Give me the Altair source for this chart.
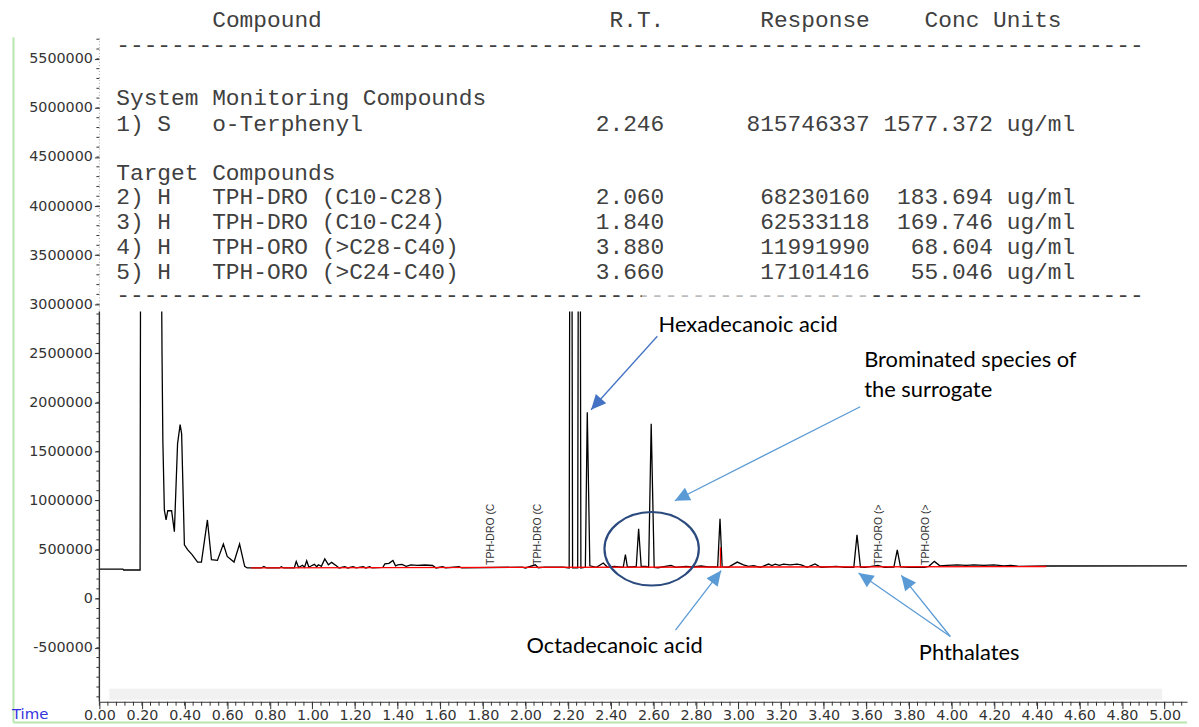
import math
import altair as alt
import pandas as pd

# ---------------- chromatogram trace (retention time in min, detector response) -------------
trace_time = [
    0.000, 0.110, 0.114, 0.191, 0.195, 0.284, 0.294, 0.298, 0.305, 0.313, 0.321, 0.339, 0.352,
    0.367, 0.379, 0.386, 0.399, 0.414, 0.435, 0.461, 0.479, 0.507, 0.526, 0.554, 0.582, 0.600,
    0.632, 0.658, 0.682, 0.694, 0.760, 0.772, 0.785, 0.845, 0.854, 0.865, 0.915, 0.924, 0.935,
    0.953, 0.963, 0.973, 0.983, 0.991, 1.009, 1.020, 1.028, 1.042, 1.058, 1.075, 1.090, 1.112,
    1.125, 1.152, 1.165, 1.191, 1.205, 1.238, 1.250, 1.269, 1.280, 1.330, 1.340, 1.359, 1.378,
    1.390, 1.401, 1.420, 1.440, 1.462, 1.494, 1.527, 1.564, 1.580, 1.611, 1.625, 1.689, 1.700,
    1.984, 2.000, 2.046, 2.060, 2.091, 2.133, 2.175, 2.205, 2.210, 2.216, 2.221, 2.245, 2.250,
    2.255, 2.260, 2.281, 2.290, 2.302, 2.333, 2.365, 2.385, 2.417, 2.450, 2.459, 2.469, 2.478,
    2.501, 2.520, 2.531, 2.543, 2.566, 2.578, 2.590, 2.604, 2.622, 2.683, 2.706, 2.753, 2.786,
    2.824, 2.857, 2.902, 2.913, 2.923, 2.951, 2.994, 3.023, 3.047, 3.071, 3.103, 3.141, 3.156,
    3.172, 3.191, 3.211, 3.242, 3.275, 3.294, 3.322, 3.359, 3.386, 3.460, 3.499, 3.541, 3.556,
    3.572, 3.594, 3.654, 3.685, 3.729, 3.745, 3.760, 3.802, 3.872, 3.893, 3.919, 3.945, 3.979,
    4.026, 4.068, 4.105, 4.152, 4.198, 4.245, 4.277, 4.315, 4.444, 5.105,
]
trace_response = [
    302000, 302000, 292000, 292000, 6000000, 6000000, 2500000, 1600000, 903000, 802000, 896000,
    896000, 683000, 1580000, 1773000, 1682000, 549000, 499000, 449000, 373000, 373000, 802000,
    397000, 390000, 556000, 430000, 373000, 556000, 329000, 313000, 313000, 329000, 313000,
    313000, 325000, 313000, 315000, 380000, 318000, 340000, 320000, 387000, 322000, 330000,
    350000, 325000, 346000, 330000, 405000, 345000, 370000, 335000, 313000, 325000, 313000,
    325000, 313000, 325000, 313000, 325000, 313000, 318000, 355000, 360000, 390000, 335000,
    345000, 350000, 330000, 345000, 340000, 343000, 338000, 313000, 325000, 313000, 325000,
    313000, 322000, 313000, 345000, 315000, 322000, 322000, 322000, 313000, 6000000, 6000000,
    313000, 313000, 6000000, 6000000, 313000, 320000, 1900000, 335000, 320000, 363000, 320000,
    330000, 322000, 322000, 450000, 325000, 325000, 330000, 713000, 330000, 330000, 320000,
    1783000, 318000, 315000, 339000, 318000, 330000, 325000, 333000, 325000, 325000, 815000,
    325000, 320000, 373000, 345000, 330000, 336000, 320000, 353000, 338000, 352000, 340000,
    352000, 345000, 352000, 345000, 320000, 353000, 320000, 330000, 318000, 320000, 650000,
    322000, 320000, 340000, 320000, 322000, 498000, 325000, 318000, 320000, 330000, 380000,
    335000, 340000, 345000, 340000, 345000, 340000, 345000, 335000, 340000, 330000, 333000,
    335000,
]

# integration baseline (red) and integration marker
baseline_time = [0.712, 4.444]
baseline_response = [313000, 328000]
marker_time = [2.915]
marker_low = [313000]
marker_high = [523000]

# ---------------- quantitation report ----------------
report_ids = ["1) S", "2) H", "3) H", "4) H", "5) H"]
report_compounds = ["o-Terphenyl", "TPH-DRO (C10-C28)", "TPH-DRO (C10-C24)",
                    "TPH-ORO (>C28-C40)", "TPH-ORO (>C24-C40)"]
report_rt = [2.246, 2.060, 1.840, 3.880, 3.660]
report_response = [815746337, 68230160, 62533118, 11991990, 17101416]
report_conc = [1577.372, 183.694, 169.746, 68.604, 55.046]

# axis tick values
x_tick_values = [round(i * 0.2, 2) for i in range(26)]
y_tick_values = [i * 500000 for i in range(-1, 12)]
x_minor = [round(i * 0.04, 2) for i in range(128)]
y_minor = [i * 100000 for i in range(-10, 58)]

# ---------------- layout ----------------
W, H = 1095, 668
xscale = alt.Scale(domain=[0, 5.105], nice=False, zero=False)
yscale = alt.Scale(domain=[-1050000, 5710000], nice=False, zero=False)

xaxis = alt.Axis(values=x_tick_values, format=".2f", title=None, grid=False,
                 domain=True, domainColor="#333333", domainWidth=1.2,
                 tickColor="#333333", tickSize=7, tickWidth=1,
                 labelFont="DejaVu Sans", labelFontSize=14.4, labelColor="#333333",
                 labelPadding=0, labelFlush=False, labelOverlap=False, labelAngle=0)
yaxis = alt.Axis(values=y_tick_values, labelExpr="datum.value + ''", title=None, grid=False,
                 domain=False, tickColor="#333333", tickSize=5, tickWidth=1,
                 labelFont="DejaVu Sans", labelFontSize=14.4, labelColor="#333333",
                 labelPadding=2, labelOverlap=False, labelFlush=False)

X = lambda f="time": alt.X(f"{f}:Q", scale=xscale, axis=xaxis)
Y = lambda f="response": alt.Y(f"{f}:Q", scale=yscale, axis=yaxis)


def single():
    return alt.Chart(alt.Data(values=[{"k": 1}]))


layers = []

# faint grey scan band near bottom
layers.append(single().mark_rect(color="#efefef", opacity=0.9).encode(
    x=alt.value(10), x2=alt.value(1070), y=alt.value(655), y2=alt.value(666)))

trace_df = pd.DataFrame({"time": trace_time, "response": trace_response})
layers.append(alt.Chart(trace_df).mark_line(color="#000000", strokeWidth=1.3, clip=True)
              .encode(x=X(), y=Y()))

base_df = pd.DataFrame({"time": baseline_time, "response": baseline_response})
layers.append(alt.Chart(base_df).mark_line(color="#ff0000", strokeWidth=1.3).encode(x=X(), y=Y()))

mark_df = pd.DataFrame({"time": marker_time, "response": marker_low, "response2": marker_high})
layers.append(alt.Chart(mark_df).mark_rule(color="#ff0000", strokeWidth=1.3)
              .encode(x=X(), y=Y(), y2="response2:Q"))

# minor ticks
layers.append(alt.Chart(pd.DataFrame({"time": x_minor})).mark_rule(color="#333333", strokeWidth=1)
              .encode(x=X(), y=alt.value(H), y2=alt.value(H + 4)))
layers.append(alt.Chart(pd.DataFrame({"response": y_minor})).mark_rule(color="#333333", strokeWidth=1)
              .encode(y=Y(), x=alt.value(-3), x2=alt.value(0)))

# y axis line: solid below the report, faint dotted behind it
layers.append(single().mark_rule(color="#333333", strokeWidth=1.4).encode(
    x=alt.value(0), y=alt.value(275), y2=alt.value(H)))
layers.append(single().mark_rule(color="#aaaaaa", strokeWidth=1, strokeDash=[1, 2]).encode(
    x=alt.value(0), y=alt.value(0), y2=alt.value(275)))

# white report box covering the upper part of the plot
layers.append(single().mark_rect(color="white").encode(
    x=alt.value(1), x2=alt.value(W), y=alt.value(-28), y2=alt.value(275)))


# report text (monospace, 13.8 px per character)
CH = 13.8
TX = 17


def mono(s):
    return s.replace(" ", "\u00a0")


header = "Compound".ljust(29) + "R.T.".ljust(11) + "Response".ljust(12) + "Conc Units"
dashes = "-" * 75
rows = []
for i in range(5):
    rows.append(f"{report_ids[i]:<7}{report_compounds[i]:<28}{report_rt[i]:.3f}"
                f"{report_response[i]:>15}{report_conc[i]:>9.3f} ug/ml")
report_lines = [
    (header, -18, TX + 7 * CH), (dashes, 7, TX), ("System Monitoring Compounds", 60, TX),
    (rows[0], 86, TX), ("Target Compounds", 136, TX), (rows[1], 160, TX), (rows[2], 185, TX),
    (rows[3], 210, TX), (rows[4], 235, TX), (dashes, 259, TX),
]
for txt, yy, xx in report_lines:
    layers.append(single().mark_text(text=mono(txt), font="Liberation Mono", fontSize=23,
                                     align="left", baseline="middle", color="#404040")
                  .encode(x=alt.value(xx), y=alt.value(yy)))
# faded part of the lower dashed rule
layers.append(single().mark_rect(color="white", opacity=0.65).encode(
    x=alt.value(546), x2=alt.value(777), y=alt.value(253), y2=alt.value(266)))

# vertical TPH window labels at their retention times
lab_df = pd.DataFrame({
    "time": report_rt[1:],
    "response": [344000] * 4,
    "label": [c[:10] for c in report_compounds[1:]],
})
layers.append(alt.Chart(lab_df).mark_text(angle=270, align="left", baseline="middle",
                                          font="Liberation Sans", fontSize=10.5, color="#333333")
              .encode(x=X(), y=Y(), text="label:N"))

# annotations
ANN_FONT = "Lato"
ANN_SIZE = 22
ann_texts = [
    ("Hexadecanoic acid", 563, 289),
    ("Brominated species of", 770, 324),
    ("the surrogate", 770, 354),
    ("Octadecanoic acid", 430, 612),
    ("Phthalates", 825, 619),
]
for txt, xx, yy in ann_texts:
    layers.append(single().mark_text(text=txt, font=ANN_FONT, fontSize=ANN_SIZE, align="left",
                                     baseline="middle", color="#000000")
                  .encode(x=alt.value(xx), y=alt.value(yy)))

arrows = [
    ((561.7, 300), (495, 374), "#4472c4"),
    ((766, 371), (579.3, 465.7), "#5b9bd5"),
    ((580, 596), (626, 536), "#5b9bd5"),
    ((856.7, 602.3), (764.3, 538.3), "#5b9bd5"),
    ((856.7, 602.3), (807.3, 540.7), "#5b9bd5"),
]
HEAD = "M0,0L-0.47,1L0.47,1Z"
for (x0, y0), (x1, y1), col in arrows:
    layers.append(single().mark_rule(color=col, strokeWidth=1.3).encode(
        x=alt.value(x0), y=alt.value(y0), x2=alt.value(x1), y2=alt.value(y1)))
    ang = math.degrees(math.atan2(x1 - x0, -(y1 - y0))) % 360
    layers.append(single().mark_point(shape=HEAD, filled=True, size=900, angle=ang, color=col,
                                      opacity=1, strokeWidth=0)
                  .encode(x=alt.value(x1), y=alt.value(y1)))

# ellipse around the brominated surrogate peaks
ELL = ("M-1,0C-1,-0.43 -0.552,-0.779 0,-0.779C0.552,-0.779 1,-0.43 1,0"
       "C1,0.43 0.552,0.779 0,0.779C-0.552,0.779 -1,0.43 -1,0Z")
layers.append(single().mark_point(shape=ELL, filled=False, size=9025, color="#2b4a7e",
                                  strokeWidth=2.2, opacity=1)
              .encode(x=alt.value(556), y=alt.value(514)))

# light green frame and "Time" label
layers.append(single().mark_rule(color="#b8e6ae", strokeWidth=2).encode(
    x=alt.value(-86.5), y=alt.value(-1), y2=alt.value(689)))
layers.append(single().mark_rule(color="#b8e6ae", strokeWidth=2).encode(
    x=alt.value(-86.5), x2=alt.value(W), y=alt.value(689)))
layers.append(single().mark_text(text="Time", font="DejaVu Sans", fontSize=15, color="#3333dd",
                                 align="left", baseline="middle")
              .encode(x=alt.value(-88), y=alt.value(680)))

chart = alt.layer(*layers).properties(
    width=W, height=H,
    padding={"left": 92, "top": 28, "right": 4, "bottom": 22},
    autosize=alt.AutoSizeParams(type="none"),
    background="white",
).configure_view(stroke=None)

chart.save("out.html", embed_options={"renderer": "svg", "actions": False})
